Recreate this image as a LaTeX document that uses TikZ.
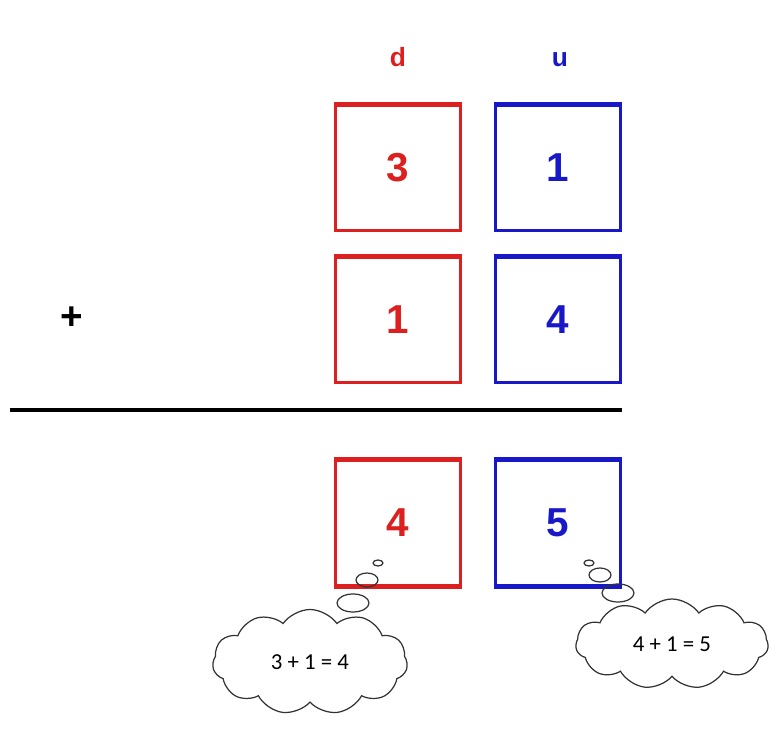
\documentclass[tikz,border=0pt]{standalone}
\usepackage{fontspec}
\setmainfont{Liberation Sans}
\newfontfamily\calfont{Carlito}
\usetikzlibrary{shapes.geometric, shapes.symbols, positioning}
\definecolor{tensRed}{HTML}{DC2020}
\definecolor{unitsBlue}{HTML}{1818C8}
\definecolor{cloudGray}{HTML}{333333}
\tikzset{
    digitbox/.style={
        draw=#1,
        line width=1.6pt,
        minimum width=2.5cm,
        minimum height=2.5cm,
        text=#1,
        font=\fontsize{23}{25}\selectfont\bfseries,
        inner sep=0pt
    },
    digitbox/.default=tensRed,
    colhead/.style={
        text=#1,
        anchor=base,
        font=\fontsize{15}{17}\selectfont\bfseries
    },
    thought/.style={
        cloud,
        draw=cloudGray,
        line width=0.7pt,
        cloud puffs=11,
        cloud puff arc=110,
        aspect=1.8,
        minimum width=3.9cm,
        minimum height=2.1cm,
        font=\calfont\fontsize{13}{15}\selectfont,
        text=black
    },
    bubble/.style={
        ellipse,
        draw=cloudGray,
        line width=0.7pt,
        inner sep=0pt
    }
}
\begin{document}
\begin{tikzpicture}[x=0.02cm, y=-0.02cm]
        \useasboundingbox (0,0) rectangle (769,729);

        % Column heads
        \node[colhead=tensRed] (hd) at (398,67) {d};
        \node[colhead=unitsBlue] (hu) at (560,67) {u};

        % First addend
        \node[digitbox=tensRed] (a1) at (398,168) {3};
        \node[digitbox=unitsBlue] (a2) at (558,168) {1};

        % Second addend
        \node[digitbox=tensRed] (b1) at (398,320) {1};
        \node[digitbox=unitsBlue] (b2) at (558,320) {4};
        \node[font=\fontsize{22}{24}\selectfont\bfseries] (plus) at (72,318) {+};

        % Sum line
        \coordinate (lineL) at (10,410);
        \coordinate (lineR) at (622,410);
        \draw[line width=2.2pt] (lineL) -- (lineR);

        % Result
        \node[digitbox=tensRed] (c1) at (398,523) {4};
        \node[digitbox=unitsBlue] (c2) at (558,523) {5};

        % Heavier edges
        \foreach \n/\c in {a1/tensRed, a2/unitsBlue, b1/tensRed, b2/unitsBlue, c1/tensRed, c2/unitsBlue}
            \draw[\c, line width=2.6pt] (\n.north west) -- (\n.north east);
        \draw[tensRed, line width=2.8pt] (c1.south west) -- (c1.south east);
        \draw[unitsBlue, line width=2.8pt] (c2.south west) -- (c2.south east);

        % Thought clouds
        \node[bubble, minimum width=0.2cm, minimum height=0.12cm] (l1) at (378,563) {};
        \node[bubble, minimum width=0.44cm, minimum height=0.28cm] (l2) at (367,580) {};
        \node[bubble, minimum width=0.64cm, minimum height=0.36cm] (l3) at (353,603) {};
        \node[thought] (lc) at (310,662) {3 + 1 = 4};

        \node[bubble, minimum width=0.2cm, minimum height=0.12cm] (r1) at (589,563) {};
        \node[bubble, minimum width=0.44cm, minimum height=0.28cm] (r2) at (600,575) {};
        \node[bubble, minimum width=0.64cm, minimum height=0.36cm] (r3) at (618,593) {};
        \node[thought, minimum width=3.85cm, minimum height=1.8cm] (rc) at (672,644) {4 + 1 = 5};
    \end{tikzpicture}
\end{document}
